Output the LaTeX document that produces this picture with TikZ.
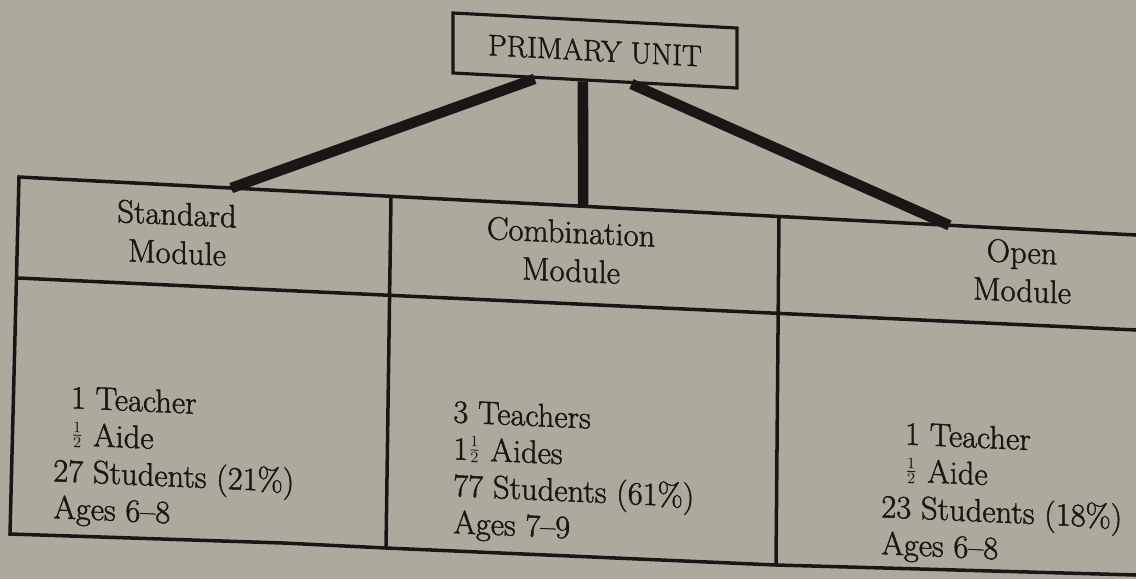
\documentclass[tikz,border=0pt]{standalone}
\usepackage{amsmath}
\usepackage{fontspec}
\usepackage{tikz}
\usetikzlibrary{calc}
\newfontfamily\typed{Latin Modern Roman}[Ligatures=TeX, FakeBold=1.4]
\newcommand{\half}{\raisebox{0.35ex}{$\scriptstyle\frac{1}{2}$}}
\definecolor{paper}{RGB}{173,170,157}
\definecolor{ink}{RGB}{24,23,21}
\tikzstyle{unitbox} = [rectangle, draw=ink, line width=1.8pt, minimum width=5.68cm, minimum height=1.2cm,
                       text=ink, font=\typed\fontsize{17}{20}\selectfont, yslant=-0.053]
\tikzstyle{headtext} = [align=center, text=ink, font=\typed\fontsize{18.5}{22}\selectfont, yslant=-0.045]
\tikzstyle{bodytext} = [align=left, anchor=north west, inner sep=0pt, text=ink,
                        font=\typed\fontsize{18.5}{21}\selectfont, yslant=-0.045]
\tikzstyle{gridline} = [draw=ink, line width=2pt]
\tikzstyle{link} = [draw=ink, line width=6pt]

\begin{document}
\begin{tikzpicture}[x=0.02cm, y=-0.02cm]
    % Paper
    \fill[paper] (0,0) rectangle (1136,579);
    \useasboundingbox (0,0) rectangle (1136,579);

    % Top box
    \node[unitbox] (unit) at (595,50.5) {PRIMARY UNIT};

    % Table corners
    \coordinate (tl) at (19,177);
    \coordinate (tr) at (1136,235);
    \coordinate (ml) at (18,278);
    \coordinate (mr) at (1136,330);
    \coordinate (bl) at (10,534);
    \coordinate (br) at (1136,575);

    % Table lines
    \draw[gridline] (tr) -- (tl) -- (bl) -- (283,543) -- (386,548) -- (776,565) -- (br);
    \draw[gridline] (ml) -- (mr);
    \draw[gridline] (391,197) -- (386,548);
    \draw[gridline] (779,217) -- (776,565);

    % Row 1: module names
    \node[headtext] (std) at (177,233) {Standard\\Module};
    \node[headtext] (comb) at (571,251) {Combination\\Module};
    \node[headtext] (open) at (1022,271) {Open\\Module};

    % Row 2: staff and students
    \node[bodytext] (stdbody) at (53,384.5)
        {\hspace*{10pt}1 Teacher\\\hspace*{10pt}\half{} Aide\\27 Students (21\%)\\Ages 6--8};
    \node[bodytext] (combbody) at (453,399.5)
        {3 Teachers\\1\half{} Aides\\77 Students (61\%)\\Ages 7--9};
    \node[bodytext] (openbody) at (881,420.5)
        {\hspace*{13.5pt}1 Teacher\\\hspace*{13.5pt}\half{} Aide\\23 Students (18\%)\\Ages 6--8};

    % Links from the unit down to the modules
    \coordinate (stdjoin) at ($(tl)!0.19!(tr)$);
    \coordinate (combjoin) at ($(tl)!0.505!(tr)$);
    \coordinate (openjoin) at ($(tl)!0.833!(tr)$);
    \draw[link] ($(unit.south west)!0.29!(unit.south east)$) -- (stdjoin);
    \draw[link] ($(unit.south west)!0.458!(unit.south east)$) -- (combjoin);
    \draw[link] ($(unit.south west)!0.627!(unit.south east)$) -- (openjoin);
\end{tikzpicture}
\end{document}
